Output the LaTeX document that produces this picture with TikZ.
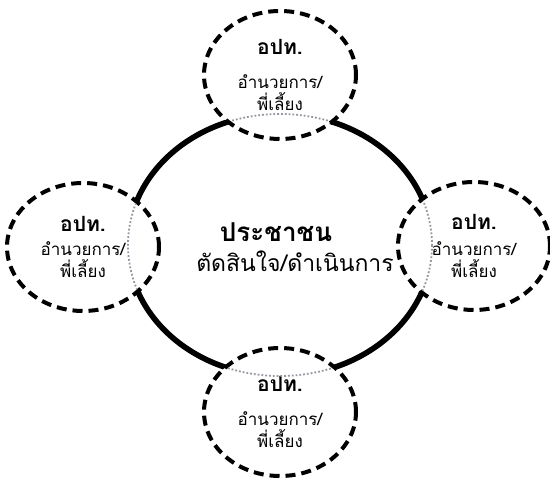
\documentclass[tikz,border=0pt]{standalone}
\usepackage{fontspec}
\usepackage{tikz}
\usetikzlibrary{shapes.geometric}
\newfontfamily\thaifont[Script=Thai]{Loma}
\definecolor{ringgray}{RGB}{150,150,160}
\tikzset{
  people/.style={
    ellipse, draw=black, line width=2.8pt, inner sep=0pt,
    minimum width=152pt, minimum height=131pt
  },
  partner/.style={
    ellipse, draw=black, line width=2pt, dash pattern=on 5pt off 3pt,
    inner sep=0pt, minimum width=76pt, minimum height=64pt,
    fill=white, align=center, font=\thaifont\fontsize{8.5}{11}\selectfont
  },
  seam/.style={draw=ringgray, line width=0.9pt, densely dotted},
}
\newcommand{\partnertext}[1]{{\bfseries\fontsize{10.5}{12}\selectfont อปท.}\\[#1]อำนวยการ/\\พี่เลี้ยง}

\begin{document}
\begin{tikzpicture}[x=0.5pt, y=-0.5pt]
  \useasboundingbox (0,0) rectangle (550,485);

  % main ring
  \node[people] (people) at (280,245) {};

  % four partner rings
  \node[partner] (top)    at (280,75)  {\partnertext{6pt}};
  \node[partner] (left)   at (83,247)  {\partnertext{1pt}};
  \node[partner] (right)  at (474,246) {\partnertext{2pt}};
  \node[partner] (bottom) at (280,412) {\partnertext{6pt}};

  % faint seam of the main ring inside each partner ring
  \foreach \p/\cx/\cy in {top/280/75, left/83/247, right/474/246, bottom/280/412} {
    \begin{scope}
      \clip (\cx,\cy) ellipse [x radius=74, y radius=62];
      \draw[seam] (people.center) ellipse [x radius=152, y radius=131];
    \end{scope}
  }

  % centre text
  \node[font=\thaifont\bfseries\fontsize{13}{15}\selectfont] (who) at (276,232) {ประชาชน};
  \node[font=\thaifont\fontsize{11.5}{14}\selectfont] (what) at (295,261) {ตัดสินใจ/ดำเนินการ};
\end{tikzpicture}
\end{document}
